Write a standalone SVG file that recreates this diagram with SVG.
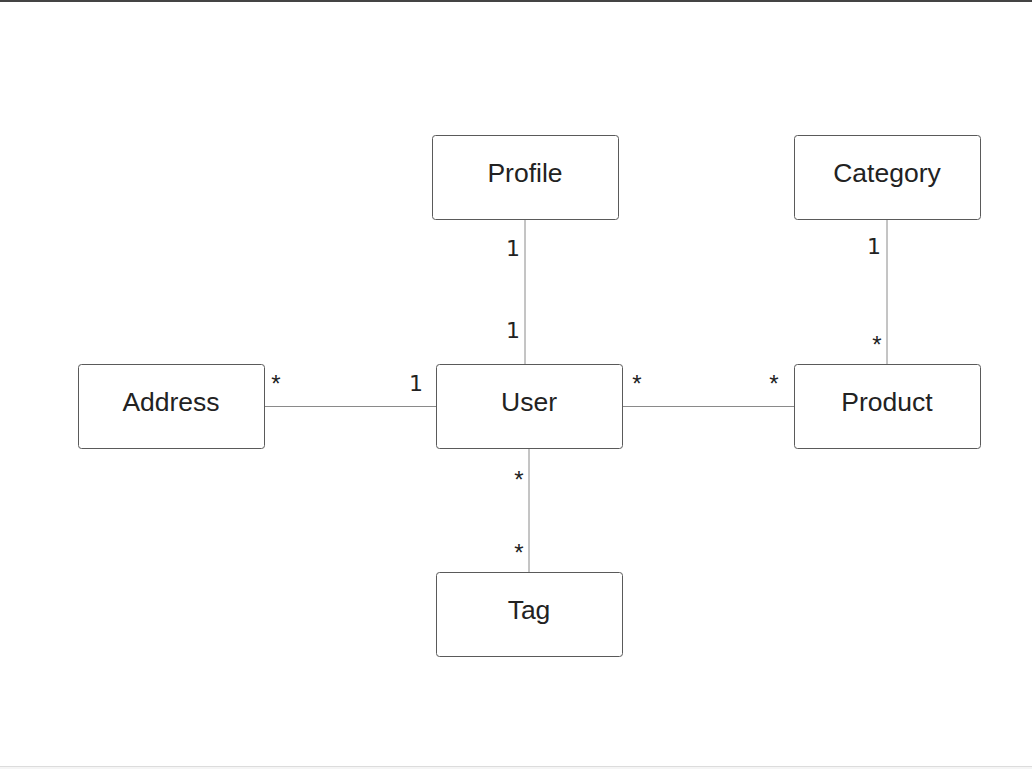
<svg xmlns="http://www.w3.org/2000/svg" width="1032" height="769" viewBox="0 0 1032 769">
<style>
.node rect{fill:#fff;stroke:#5a5a5a;stroke-width:1}
.node text{font-family:"Liberation Sans",Arial,sans-serif;font-size:26.5px;fill:#222;text-anchor:middle}
.conn line{stroke:#8a8a8a;stroke-width:1}
.lbl{font-family:"DejaVu Sans",sans-serif;font-size:22px;fill:#222;text-anchor:middle}
.ast{font-family:"Liberation Sans",Arial,sans-serif;font-size:24px;fill:#222;text-anchor:middle}
</style>
<rect x="0" y="0" width="1032" height="769" fill="#fff"/>
<rect x="0" y="0" width="1032" height="2" fill="#444"/>
<rect x="0" y="766" width="1032" height="3" fill="#f5f5f5"/>
<line x1="0" y1="766.5" x2="1032" y2="766.5" stroke="#dcdcdc" stroke-width="1"/>
<g class="conn" id="connectors">
<line x1="525" y1="219" x2="525" y2="364"/>
<line x1="887" y1="219" x2="887" y2="364"/>
<line x1="264" y1="406.5" x2="436" y2="406.5"/>
<line x1="622" y1="406.5" x2="794" y2="406.5"/>
<line x1="529" y1="448" x2="529" y2="572"/>
<text class="lbl" x="513" y="256">1</text>
<text class="lbl" x="513" y="338">1</text>
<text class="lbl" x="874" y="254">1</text>
<text class="ast" x="877" y="353">*</text>
<text class="ast" x="276" y="392">*</text>
<text class="lbl" x="416" y="391">1</text>
<text class="ast" x="637" y="392">*</text>
<text class="ast" x="774" y="392">*</text>
<text class="ast" x="519" y="488">*</text>
<text class="ast" x="519" y="561">*</text>
</g>
<g class="node" id="profile"><rect x="432.5" y="135.5" width="186" height="84" rx="3"/><text x="525" y="182">Profile</text></g>
<g class="node" id="category"><rect x="794.5" y="135.5" width="186" height="84" rx="3"/><text x="887" y="182">Category</text></g>
<g class="node" id="address"><rect x="78.5" y="364.5" width="186" height="84" rx="3"/><text x="171" y="411">Address</text></g>
<g class="node" id="user"><rect x="436.5" y="364.5" width="186" height="84" rx="3"/><text x="529" y="411">User</text></g>
<g class="node" id="product"><rect x="794.5" y="364.5" width="186" height="84" rx="3"/><text x="887" y="411">Product</text></g>
<g class="node" id="tag"><rect x="436.5" y="572.5" width="186" height="84" rx="3"/><text x="529" y="619">Tag</text></g>
</svg>
